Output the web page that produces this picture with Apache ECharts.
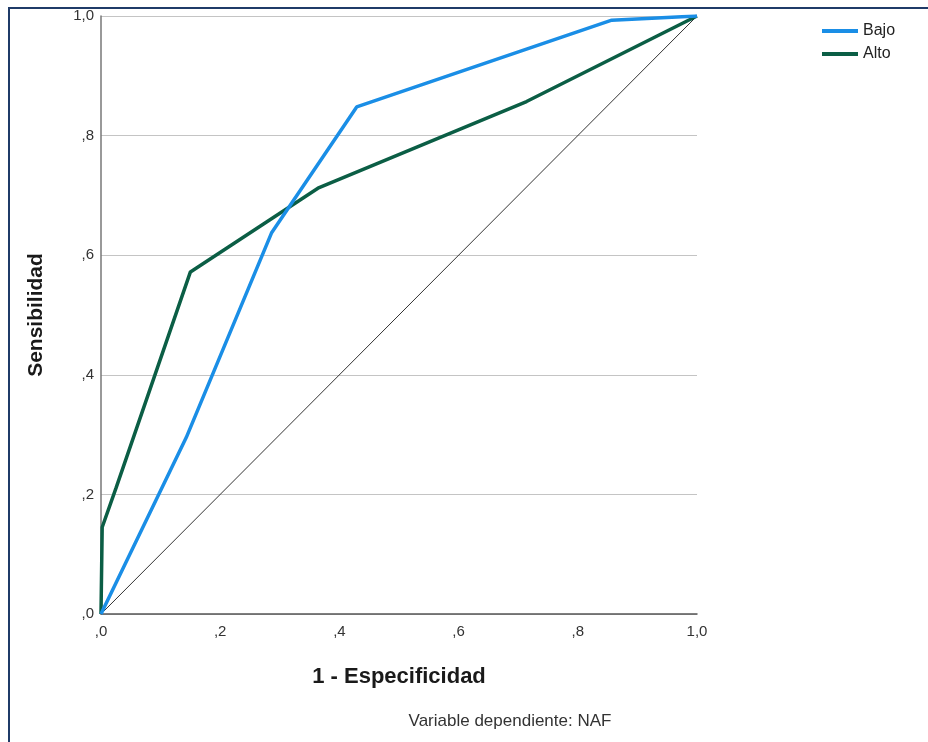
<!DOCTYPE html>
<html>
<head>
<meta charset="utf-8">
<script src="https://cdn.jsdelivr.net/npm/echarts@6/dist/echarts.min.js"></script>
<style>
html,body{margin:0;padding:0;background:#fff;}
#chart{width:928px;height:742px;}
</style>
</head>
<body>
<div id="chart"></div>
<script>
var seriesNames = ['Bajo', 'Alto'];
var bajoX = [0, 0.143, 0.286, 0.429, 0.857, 1.0];
var bajoY = [0, 0.295, 0.637, 0.848, 0.993, 1.0];
var altoX = [0, 0.002, 0.025, 0.15, 0.364, 0.714, 1.0];
var altoY = [0, 0.145, 0.21, 0.572, 0.712, 0.857, 1.0];
var refX = [0, 1];
var refY = [0, 1];
var tickValues = [0, 0.2, 0.4, 0.6, 0.8, 1.0];
var tickLabels = [',0', ',2', ',4', ',6', ',8', '1,0'];
var footnote = 'Variable dependiente: NAF';

function pairs(xs, ys) { return xs.map(function (x, i) { return [x, ys[i]]; }); }
function fmt(v) {
  for (var i = 0; i < tickValues.length; i++) {
    if (Math.abs(v - tickValues[i]) < 1e-6) return tickLabels[i];
  }
  return '';
}

var chart = echarts.init(document.getElementById('chart'));
var font = '"Liberation Sans", Arial, sans-serif';
chart.setOption({
  animation: false,
  backgroundColor: '#ffffff',
  textStyle: { fontFamily: font },
  grid: { left: 101, top: 16, width: 596, height: 598, containLabel: false },
  legend: {
    data: [
      { name: seriesNames[0], icon: 'rect' },
      { name: seriesNames[1], icon: 'rect' }
    ],
    orient: 'vertical',
    left: 822,
    top: 23,
    padding: 0,
    itemWidth: 36,
    itemHeight: 4,
    itemGap: 7,
    textStyle: { fontFamily: font, fontSize: 16, color: '#222', padding: [0, 0, 0, 0] }
  },
  xAxis: {
    type: 'value', min: 0, max: 1, interval: 0.2,
    name: '1 - Especificidad', nameLocation: 'middle', nameGap: 52,
    nameTextStyle: { fontFamily: font, fontSize: 22, fontWeight: 'bold', color: '#1a1a1a' },
    axisLine: { show: true, lineStyle: { color: '#555', width: 1.5 } },
    axisTick: { show: false },
    splitLine: { show: false },
    axisLabel: { formatter: fmt, fontFamily: font, fontSize: 15, color: '#333', margin: 10 }
  },
  yAxis: {
    type: 'value', min: 0, max: 1, interval: 0.2,
    name: 'Sensibilidad', nameLocation: 'middle', nameGap: 54, nameRotate: 90,
    nameTextStyle: { fontFamily: font, fontSize: 21, fontWeight: 'bold', color: '#1a1a1a' },
    axisLine: { show: true, lineStyle: { color: '#777', width: 1.5 } },
    axisTick: { show: false },
    splitLine: { show: true, lineStyle: { color: '#c4c4c4', width: 1 } },
    axisLabel: { formatter: fmt, fontFamily: font, fontSize: 15, color: '#333', margin: 7 }
  },
  series: [
    {
      name: 'ref', type: 'line', data: pairs(refX, refY), symbol: 'none', silent: true,
      lineStyle: { color: '#333333', width: 1 }, z: 1
    },
    {
      name: seriesNames[0], type: 'line', data: pairs(bajoX, bajoY), symbol: 'none',
      color: '#1a8ee6',
      lineStyle: { color: '#1a8ee6', width: 3.5 }, z: 3
    },
    {
      name: seriesNames[1], type: 'line', data: pairs(altoX, altoY), symbol: 'none',
      color: '#0b5e45',
      lineStyle: { color: '#0b5e45', width: 3.5 }, z: 2
    }
  ],
  graphic: [
    { type: 'rect', shape: { x: 8, y: 7, width: 2, height: 735 }, style: { fill: '#1f3b68' } },
    { type: 'rect', shape: { x: 8, y: 7, width: 920, height: 2 }, style: { fill: '#1f3b68' } },
    { type: 'text', x: 510, y: 721, style: { text: footnote, font: '17px "Liberation Sans", Arial, sans-serif', fill: '#333', align: 'center', verticalAlign: 'middle' } }
  ]
});
</script>
</body>
</html>
